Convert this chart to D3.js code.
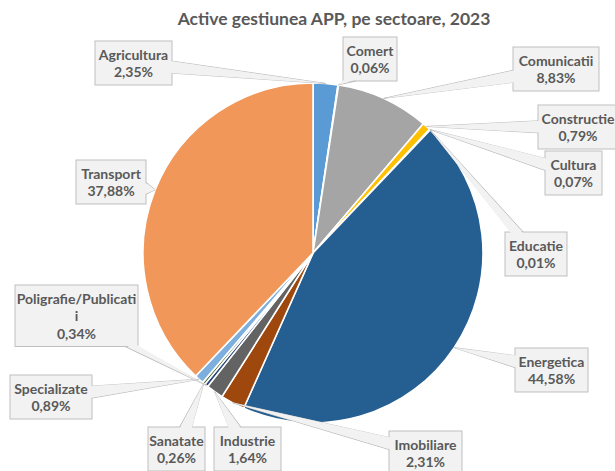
<!DOCTYPE html>
<html>
<head>
<meta charset="utf-8">
<script src="https://cdn.jsdelivr.net/npm/d3@7"></script>
<style>
  html, body { margin: 0; padding: 0; background: #fff; }
  svg { display: block; }
  text { font-family: Lato, "Open Sans", sans-serif; font-weight: bold; fill: #595959; }
</style>
</head>
<body>
<svg id="chart" width="615" height="471"></svg>
<script>
// ---- data ----
const title = "Active gestiunea APP, pe sectoare, 2023";
const categories = ["Agricultura", "Comert", "Comunicatii", "Constructie", "Cultura", "Educatie",
  "Energetica", "Imobiliare", "Industrie", "Poligrafie/Publicatii", "Sanatate", "Specializate", "Transport"];
const values = [2.35, 0.06, 8.83, 0.79, 0.07, 0.01, 44.58, 2.31, 1.64, 0.34, 0.26, 0.89, 37.88];
const valueLabels = ["2,35%", "0,06%", "8,83%", "0,79%", "0,07%", "0,01%", "44,58%", "2,31%",
  "1,64%", "0,34%", "0,26%", "0,89%", "37,88%"];
const nameLines = [["Agricultura"], ["Comert"], ["Comunicatii"], ["Constructie"], ["Cultura"], ["Educatie"],
  ["Energetica"], ["Imobiliare"], ["Industrie"], ["Poligrafie/Publicati", "i"], ["Sanatate"], ["Specializate"], ["Transport"]];

// ---- layout / style ----
const colors = ["#5B9BD5", "#ED7D31", "#A5A5A5", "#FFC000", "#4472C4", "#70AD47",
  "#255E91", "#9E480E", "#636363", "#264478", "#43682B", "#7CAFDD", "#F1975A"];
// label box positions [x, y, width]
const boxPos = [[95, 41, 77], [343, 37, 54], [513, 47, 86], [538, 105, 80], [545, 151, 57], [505, 232, 62],
  [515, 348, 73], [389, 431, 73], [214, 427, 67], [15, 285, 123], [148, 427, 57], [10, 375, 82], [76, 160, 70]];
const cx = 313, cy = 253, R = 170;
const lineH = 17.5, padTop = 14, fontSize = 14;

const svg = d3.select("#chart");

svg.append("text")
  .attr("x", 334).attr("y", 25)
  .attr("text-anchor", "middle")
  .style("font-size", "17.5px")
  .text(title);

const data = categories.map((c, i) => ({ name: c, value: values[i], i }));
const pie = d3.pie().value(d => d.value).sort(null);
const arcs = pie(data);
const arc = d3.arc().innerRadius(0).outerRadius(R);

const g = svg.append("g").attr("transform", `translate(${cx},${cy})`);
g.selectAll("path").data(arcs).join("path")
  .attr("d", arc)
  .attr("fill", d => colors[d.data.i])
  .attr("stroke", "#fff")
  .attr("stroke-width", 1.6)
  .attr("stroke-linejoin", "round");

// labels with callout wedges
const labels = svg.append("g");
arcs.forEach(a => {
  const i = a.data.i;
  const lines = nameLines[i].concat([valueLabels[i]]);
  const [bx, by, bw] = boxPos[i];
  const bh = 2 * 6.5 + lines.length * lineH - 4;
  const mid = (a.startAngle + a.endAngle) / 2;
  const tx = cx + R * Math.sin(mid), ty = cy - R * Math.cos(mid);
  const ccx = bx + bw / 2, ccy = by + bh / 2;
  const dx = tx - ccx, dy = ty - ccy;
  const sx = dx !== 0 ? (bw / 2) / Math.abs(dx) : Infinity;
  const sy = dy !== 0 ? (bh / 2) / Math.abs(dy) : Infinity;
  let b1, b2, f1, f2;
  const hw = 6;
  if (sx < sy) {
    const ex = dx > 0 ? bx + bw : bx;
    let py = ccy + dy * sx;
    py = Math.max(by + hw + 1, Math.min(by + bh - hw - 1, py));
    const n = dx > 0 ? -1.5 : 1.5;
    b1 = [ex, py - hw]; b2 = [ex, py + hw];
    f1 = [ex + n, py - hw]; f2 = [ex + n, py + hw];
  } else {
    const ey = dy > 0 ? by + bh : by;
    let px = ccx + dx * sy;
    px = Math.max(bx + hw + 1, Math.min(bx + bw - hw - 1, px));
    const n = dy > 0 ? -1.5 : 1.5;
    b1 = [px - hw, ey]; b2 = [px + hw, ey];
    f1 = [px - hw, ey + n]; f2 = [px + hw, ey + n];
  }
  const lg = labels.append("g");
  lg.append("polygon")
    .attr("points", [b1, [tx, ty], b2].map(p => p.join(",")).join(" "))
    .attr("fill", "#F2F2F2").attr("stroke", "#BFBFBF").attr("stroke-width", 1);
  lg.append("rect")
    .attr("x", bx).attr("y", by).attr("width", bw).attr("height", bh)
    .attr("fill", "#F2F2F2").attr("stroke", "#BFBFBF").attr("stroke-width", 1);
  lg.append("polygon")
    .attr("points", [f1, [tx, ty], f2].map(p => p.join(",")).join(" "))
    .attr("fill", "#F2F2F2").attr("stroke", "none");
  lines.forEach((t, k) => {
    lg.append("text")
      .attr("x", bx + bw / 2)
      .attr("y", by + padTop + k * lineH)
      .attr("dy", "0.35em")
      .attr("text-anchor", "middle")
      .style("font-size", fontSize + "px")
      .text(t);
  });
});
</script>
</body>
</html>
